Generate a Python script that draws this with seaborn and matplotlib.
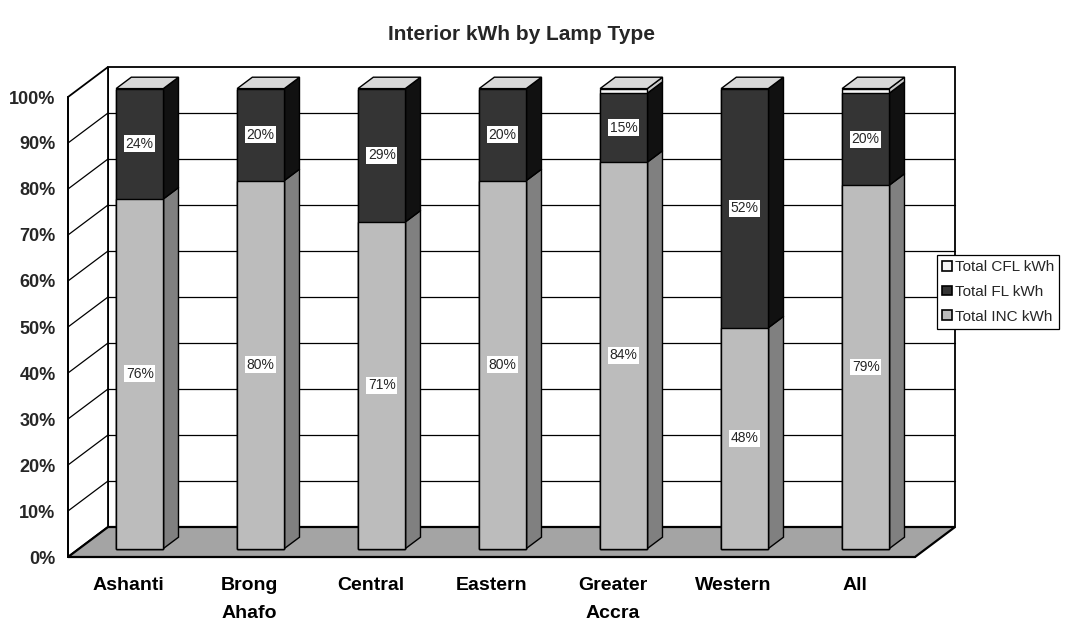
import matplotlib
matplotlib.use("Agg")
import matplotlib.pyplot as plt
from matplotlib.patches import Polygon, Patch
import seaborn as sns

# ---- data -------------------------------------------------------------
regions = ["Ashanti", "Brong\nAhafo", "Central", "Eastern", "Greater\nAccra", "Western", "All"]
inc_pct = [76, 80, 71, 80, 84, 48, 79]   # Total INC kWh share
fl_pct = [24, 20, 29, 20, 15, 52, 20]    # Total FL kWh share
cfl_pct = [0, 0, 0, 0, 1, 0, 1]          # Total CFL kWh share
series_names = ["Total CFL kWh", "Total FL kWh", "Total INC kWh"]
y_ticks = [0, 10, 20, 30, 40, 50, 60, 70, 80, 90, 100]
y_tick_labels = [f"{t}%" for t in y_ticks]
title = "Interior kWh by Lamp Type"

# ---- style ------------------------------------------------------------
sns.set_style("white")
plt.rcParams["font.family"] = ["Liberation Sans", "DejaVu Sans"]

W, H, DPI = 1075, 621, 100
fig = plt.figure(figsize=(W / DPI, H / DPI), dpi=DPI)
fig.patch.set_facecolor("white")
ax = fig.add_axes([68 / W, (H - 557) / H, 847 / W, 460 / H])

n = len(regions)
x_lo, x_hi = -0.5, n - 0.5

# depth vector of the pseudo-3D box, in data units (40 px right, 30 px up)
DX = 40 * (x_hi - x_lo) / 847
DY = 30 * 100 / 460
BAR_D0, BAR_D1 = 0.28, 0.66   # bar depth span as fraction of box depth

c_inc_front, c_inc_side = "#bcbcbc", "#808080"
c_fl_front, c_fl_side = "#343434", "#111111"
c_cfl_front, c_cfl_side = "#f4f4f4", "#c8c8c8"
c_top = "#d8d8d8"
c_floor = "#a4a4a4"

# ---- walls, floor and gridlines ---------------------------------------
def poly(pts, fc, ec="black", lw=1.0, z=1.0):
    p = Polygon(pts, closed=True, facecolor=fc, edgecolor=ec, linewidth=lw,
                zorder=z, clip_on=False, joinstyle="miter")
    ax.add_patch(p)
    return p

# back wall
poly([(x_lo + DX, DY), (x_hi + DX, DY), (x_hi + DX, 100 + DY), (x_lo + DX, 100 + DY)],
     "white", lw=1.3, z=0.2)
# left wall
poly([(x_lo, 0), (x_lo + DX, DY), (x_lo + DX, 100 + DY), (x_lo, 100)],
     "white", lw=1.3, z=0.2)
for t in y_ticks[1:-1]:
    ax.plot([x_lo + DX, x_hi + DX], [t + DY, t + DY], color="black", lw=0.9,
            zorder=0.3, clip_on=False)
    ax.plot([x_lo, x_lo + DX], [t, t + DY], color="black", lw=0.9,
            zorder=0.3, clip_on=False)
# floor
poly([(x_lo, 0), (x_hi, 0), (x_hi + DX, DY), (x_lo + DX, DY)], c_floor, lw=1.6, z=0.4)

# ---- bars (front faces via seaborn, cumulative stacking) --------------
tops = [a + b + c for a, b, c in zip(inc_pct, fl_pct, cfl_pct)]
mids = [a + b for a, b in zip(inc_pct, fl_pct)]
layers = [(tops, c_cfl_front), (mids, c_fl_front), (inc_pct, c_inc_front)]

bar_w = 0.39
for heights, col in layers:
    before = len(ax.patches)
    sns.barplot(x=regions, y=heights, color=col, saturation=1, width=bar_w,
                edgecolor="black", linewidth=1.0, ax=ax, order=regions)
    for p in ax.patches[before:]:
        p.set_x(p.get_x() + BAR_D0 * DX)
        p.set_y(p.get_y() + BAR_D0 * DY)
        p.set_zorder(2)
        p.set_clip_on(False)

# side and top faces
ox0, oy0 = BAR_D0 * DX, BAR_D0 * DY
ox1, oy1 = BAR_D1 * DX, BAR_D1 * DY
for i in range(n):
    xr = i + bar_w / 2
    xl = i - bar_w / 2
    segs = [(0, inc_pct[i], c_inc_side),
            (inc_pct[i], mids[i], c_fl_side),
            (mids[i], tops[i], c_cfl_side)]
    for y0, y1, col in segs:
        if y1 <= y0:
            continue
        poly([(xr + ox0, y0 + oy0), (xr + ox0, y1 + oy0),
              (xr + ox1, y1 + oy1), (xr + ox1, y0 + oy1)], col, lw=1.0, z=1.9)
    T = tops[i]
    poly([(xl + ox0, T + oy0), (xr + ox0, T + oy0),
          (xr + ox1, T + oy1), (xl + ox1, T + oy1)], c_top, lw=1.0, z=1.9)

# value labels
lab_kw = dict(ha="center", va="center", fontsize=10, zorder=5,
              bbox=dict(facecolor="white", edgecolor="none", pad=1.0))
for i in range(n):
    ax.text(i + ox0, inc_pct[i] / 2 + oy0, f"{inc_pct[i]}%", **lab_kw)
    ax.text(i + ox0, inc_pct[i] + fl_pct[i] / 2 + oy0, f"{fl_pct[i]}%", **lab_kw)

# ---- axes -------------------------------------------------------------
ax.set_xlim(x_lo, x_hi)
ax.set_ylim(0, 100)
ax.set_facecolor("none")
ax.set_xlabel("")
ax.set_ylabel("")
ax.set_yticks(y_ticks)
ax.set_yticklabels(y_tick_labels, fontsize=13, fontweight="bold")
ax.set_xticks(range(n))
ax.set_xticklabels(regions, fontsize=14, fontweight="bold", linespacing=1.85)
ax.set_xticks([k - 0.5 for k in range(n + 1)], minor=True)
ax.tick_params(axis="x", which="major", length=0, pad=14.5, colors="black")
ax.tick_params(axis="x", which="minor", length=9, width=1, color="black", direction="out")
ax.tick_params(axis="y", length=6, width=1, color="black", direction="out", pad=3)
for s in ["top", "right"]:
    ax.spines[s].set_visible(False)
ax.spines["left"].set_color("black")
ax.spines["left"].set_linewidth(1.3)
ax.spines["bottom"].set_color("black")
ax.spines["bottom"].set_linewidth(1.3)
ax.grid(False)

# ---- legend and title -------------------------------------------------
handles = [Patch(facecolor=c_cfl_front, edgecolor="black", linewidth=1.2),
           Patch(facecolor=c_fl_front, edgecolor="black", linewidth=1.2),
           Patch(facecolor=c_inc_front, edgecolor="black", linewidth=1.2)]
leg = fig.legend(handles, series_names, loc="center left",
                 bbox_to_anchor=(937 / W, (H - 292) / H), fontsize=11,
                 frameon=True, fancybox=False, edgecolor="black", framealpha=1,
                 handlelength=0.6, handleheight=0.6, handletextpad=0.2,
                 borderpad=0.35, labelspacing=0.7, borderaxespad=0)
leg.get_frame().set_linewidth(0.9)

fig.text(522 / W, (H - 35) / H, title, ha="center", va="center",
         fontsize=15, fontweight="bold")

fig.savefig("out.png", dpi=DPI, facecolor="white")
